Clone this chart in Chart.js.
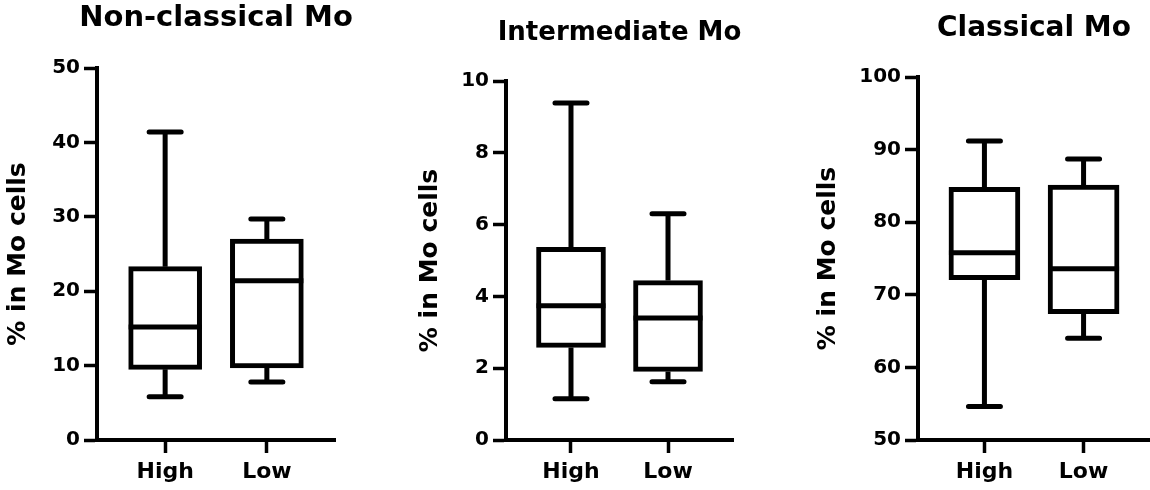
<!DOCTYPE html>
<html lang="en">
<head>
<meta charset="UTF-8" />
<title>Mo subsets, High vs Low</title>
<script src="https://cdn.jsdelivr.net/npm/chart.js@4"></script>
<style>
  body { margin: 0; background: #fff; width: 1150px; height: 490px; position: relative; overflow: hidden; }
  .panel { position: absolute; top: 0; height: 490px; }
</style>
</head>
<body>
<div class="panel" style="left:0"><canvas id="nonClassical" width="380" height="490"></canvas></div>
<div class="panel" style="left:380px"><canvas id="intermediate" width="390" height="490"></canvas></div>
<div class="panel" style="left:770px"><canvas id="classical" width="380" height="490"></canvas></div>

<script>
// groups on the x axis
var groups = ['High', 'Low'];

// Non-classical Mo (% in Mo cells)
var nonClassicalMin = [5.8, 7.8];
var nonClassicalQ1 = [9.5, 9.7];
var nonClassicalMedian = [15.2, 21.4];
var nonClassicalQ3 = [23.3, 27.0];
var nonClassicalMax = [41.4, 29.7];

// Intermediate Mo
var intermediateMin = [1.15, 1.62];
var intermediateQ1 = [2.58, 1.91];
var intermediateMedian = [3.74, 3.40];
var intermediateQ3 = [5.37, 4.44];
var intermediateMax = [9.39, 6.30];

// Classical Mo
var classicalMin = [54.6, 64.0];
var classicalQ1 = [72.1, 67.4];
var classicalMedian = [75.8, 73.6];
var classicalQ3 = [84.8, 85.1];
var classicalMax = [91.2, 88.7];

// y axis ranges: [min, max, step]
var nonClassicalAxis = [0, 50, 10];
var intermediateAxis = [0, 10, 2];
var classicalAxis = [50, 100, 10];

Chart.defaults.font.family = 'DejaVu Sans';
Chart.defaults.font.weight = 'bold';
Chart.defaults.color = '#000';

// whiskers, caps and median line on top of the floating bars
function boxParts(stats, boxWidth) {
  return {
    id: 'boxParts',
    afterDatasetsDraw: function (chart) {
      var ctx = chart.ctx;
      var xs = chart.scales.x;
      var ys = chart.scales.y;
      ctx.save();
      ctx.strokeStyle = '#000';
      ctx.lineWidth = 5;
      for (var i = 0; i < groups.length; i++) {
        var cx = xs.getPixelForValue(i);
        var half = boxWidth / 2;
        var yMin = ys.getPixelForValue(stats.min[i]);
        var yQ1 = ys.getPixelForValue(stats.q1[i]);
        var yMed = ys.getPixelForValue(stats.median[i]);
        var yQ3 = ys.getPixelForValue(stats.q3[i]);
        var yMax = ys.getPixelForValue(stats.max[i]);

        ctx.lineCap = 'butt';
        ctx.beginPath();
        ctx.moveTo(cx, yQ3); ctx.lineTo(cx, yMax);
        ctx.moveTo(cx, yQ1); ctx.lineTo(cx, yMin);
        ctx.moveTo(cx - half, yMed); ctx.lineTo(cx + half, yMed);
        ctx.stroke();

        ctx.lineCap = 'round';
        ctx.beginPath();
        ctx.moveTo(cx - 16, yMax); ctx.lineTo(cx + 16, yMax);
        ctx.moveTo(cx - 16, yMin); ctx.lineTo(cx + 16, yMin);
        ctx.stroke();
      }
      ctx.restore();
    }
  };
}

// panel title centred over the plot area (the built-in title centres over the whole canvas)
function panelTitle(text, size, y) {
  return {
    id: 'panelTitle',
    afterDraw: function (chart) {
      var ctx = chart.ctx;
      var area = chart.chartArea;
      ctx.save();
      ctx.font = 'bold ' + size + 'px "DejaVu Sans"';
      ctx.fillStyle = '#000';
      ctx.textAlign = 'center';
      ctx.textBaseline = 'middle';
      ctx.fillText(text, (area.left + area.right) / 2, y);
      ctx.restore();
    }
  };
}

function drawPanel(id, title, stats, axis, look) {
  var points = groups.map(function (g, i) {
    return { x: i, y: [stats.q1[i], stats.q3[i]] };
  });

  new Chart(document.getElementById(id), {
    type: 'bar',
    data: {
      datasets: [{
        data: points,
        backgroundColor: '#fff',
        borderColor: '#000',
        borderWidth: 5,
        borderSkipped: false,
        barThickness: look.box
      }]
    },
    options: {
      responsive: false,
      animation: false,
      layout: { padding: { left: 0, right: look.right, top: look.top, bottom: 0 } },
      plugins: {
        legend: { display: false },
        tooltip: { enabled: false },
        title: { display: false }
      },
      scales: {
        x: {
          type: 'linear',
          min: -0.67,
          max: 1.67,
          offset: false,
          afterBuildTicks: function (s) { s.ticks = [{ value: 0 }, { value: 1 }]; },
          afterFit: function (s) { s.height = 50; },
          ticks: {
            callback: function (v) { return groups[v]; },
            font: { size: 22, weight: 'bold' },
            color: '#000',
            padding: 6,
            maxRotation: 0,
            autoSkip: false
          },
          grid: { drawOnChartArea: false, offset: false, tickLength: 13, tickWidth: 3.5, tickColor: '#000' },
          border: { color: '#000', width: 4 }
        },
        y: {
          min: axis[0],
          max: axis[1],
          afterFit: function (s) { s.width = look.axisLeft; },
          ticks: { stepSize: axis[2], font: { size: 20, weight: 'bold' }, color: '#000', padding: 4 },
          grid: { drawOnChartArea: false, tickLength: 13, tickWidth: 3.5, tickColor: '#000' },
          border: { color: '#000', width: 4 },
          title: {
            display: true,
            text: '% in Mo cells',
            color: '#000',
            font: { size: 25, weight: 'bold' },
            padding: { top: look.yTitle, bottom: 0 }
          }
        }
      }
    },
    plugins: [boxParts(stats, look.box), panelTitle(title, look.titleSize, look.titleY)]
  });
}

drawPanel('nonClassical', 'Non-classical Mo',
  { min: nonClassicalMin, q1: nonClassicalQ1, median: nonClassicalMedian, q3: nonClassicalQ3, max: nonClassicalMax },
  nonClassicalAxis,
  { box: 73, right: 45, top: 68, axisLeft: 97, yTitle: 3.0, titleSize: 29, titleY: 18 });

drawPanel('intermediate', 'Intermediate Mo',
  { min: intermediateMin, q1: intermediateQ1, median: intermediateMedian, q3: intermediateQ3, max: intermediateMax },
  intermediateAxis,
  { box: 69, right: 37, top: 81, axisLeft: 126, yTitle: 35.0, titleSize: 26, titleY: 33 });

drawPanel('classical', 'Classical Mo',
  { min: classicalMin, q1: classicalQ1, median: classicalMedian, q3: classicalQ3, max: classicalMax },
  classicalAxis,
  { box: 71, right: 0, top: 77, axisLeft: 148, yTitle: 43.0, titleSize: 28, titleY: 29 });
</script>
</body>
</html>
